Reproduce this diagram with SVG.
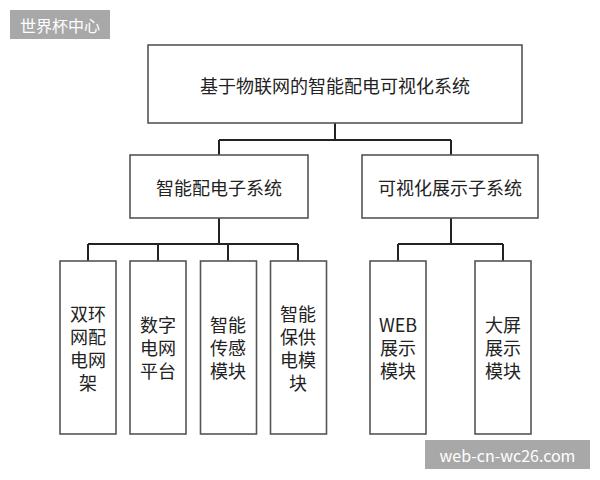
<svg xmlns="http://www.w3.org/2000/svg" width="600" height="480" viewBox="0 0 600 480">
<style>
.box{fill:#fff;stroke:#555;stroke-width:1.6}
.t{font-family:"Noto Sans CJK SC","Noto Sans",sans-serif;font-size:18px;fill:#222;text-anchor:middle;dominant-baseline:central}
.c{fill:none;stroke:#222;stroke-width:2}
.wm{fill:#a8a8a8}
.wt{font-family:"Noto Sans CJK SC","Noto Sans",sans-serif;font-size:16px;fill:#fff;text-anchor:middle;dominant-baseline:central}
</style>
<rect width="600" height="480" fill="#fff"/>
<g id="connectors">
<path class="c" d="M335 123V140M219 140H451M219 140V155M451 140V155"/>
<path class="c" d="M219 218V244M88 244H298M88 244V261M158 244V261M228 244V261M298 244V261"/>
<path class="c" d="M451 218V244M398 244H503M398 244V261M503 244V261"/>
</g>
<g id="root">
<rect class="box" x="148" y="45" width="374" height="78"/>
<text class="t" x="335" y="85">基于物联网的智能配电可视化系统</text>
</g>
<g id="sub1">
<rect class="box" x="130" y="155" width="178" height="63"/>
<text class="t" x="219" y="187">智能配电子系统</text>
</g>
<g id="sub2">
<rect class="box" x="362" y="155" width="176" height="63"/>
<text class="t" x="450" y="187">可视化展示子系统</text>
</g>
<g id="leaf1">
<rect class="box" x="60" y="261" width="56" height="173"/>
<text class="t" x="88"><tspan x="88" y="313">双环</tspan><tspan x="88" y="336">网配</tspan><tspan x="88" y="359">电网</tspan><tspan x="88" y="382">架</tspan></text>
</g>
<g id="leaf2">
<rect class="box" x="130" y="261" width="56" height="173"/>
<text class="t" x="158"><tspan x="158" y="324">数字</tspan><tspan x="158" y="347">电网</tspan><tspan x="158" y="370">平台</tspan></text>
</g>
<g id="leaf3">
<rect class="box" x="200.5" y="261" width="56" height="173"/>
<text class="t" x="228"><tspan x="228" y="324">智能</tspan><tspan x="228" y="347">传感</tspan><tspan x="228" y="370">模块</tspan></text>
</g>
<g id="leaf4">
<rect class="box" x="270.5" y="261" width="56" height="173"/>
<text class="t" x="298"><tspan x="298" y="313">智能</tspan><tspan x="298" y="336">保供</tspan><tspan x="298" y="359">电模</tspan><tspan x="298" y="382">块</tspan></text>
</g>
<g id="leaf5">
<rect class="box" x="370" y="261" width="56" height="173"/>
<text class="t" x="398"><tspan x="398" y="324">WEB</tspan><tspan x="398" y="347">展示</tspan><tspan x="398" y="370">模块</tspan></text>
</g>
<g id="leaf6">
<rect class="box" x="475" y="261" width="56" height="173"/>
<text class="t" x="503"><tspan x="503" y="324">大屏</tspan><tspan x="503" y="347">展示</tspan><tspan x="503" y="370">模块</tspan></text>
</g>
<g id="watermark1">
<rect class="wm" x="10" y="10" width="100" height="29"/>
<text class="wt" x="60" y="24.5">世界杯中心</text>
</g>
<g id="watermark2">
<rect class="wm" x="425" y="440" width="165" height="29"/>
<text class="wt" x="507.5" y="454.5">web-cn-wc26.com</text>
</g>
</svg>
